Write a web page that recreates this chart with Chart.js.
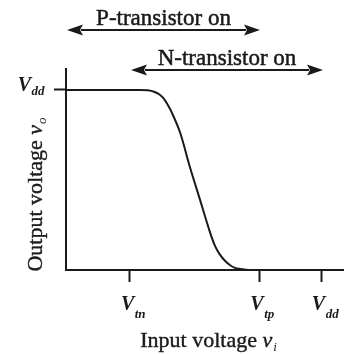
<!DOCTYPE html>
<html>
<head>
<meta charset="utf-8">
<script src="https://cdn.jsdelivr.net/npm/chart.js@4.4.1/dist/chart.umd.min.js"></script>
<style>
  html, body { margin: 0; padding: 0; background: #ffffff; }
  #wrap { width: 344px; height: 354px; }
</style>
</head>
<body>
<div id="wrap"><canvas id="c" width="344" height="354"></canvas></div>
<script>
// ---- data (normalised so that Vdd = 5) ----
const inputVoltage  = [0, 1.45, 1.60, 1.72, 1.82, 1.91, 1.99, 2.07, 2.23, 2.42, 2.62, 2.81, 2.91, 3.01, 3.11, 3.20, 3.30, 3.40, 3.59, 3.80];
const outputVoltage = [5, 5, 4.99, 4.95, 4.88, 4.76, 4.58, 4.36, 3.81, 2.86, 1.94, 1.06, 0.67, 0.42, 0.25, 0.14, 0.06, 0.03, 0, 0];

const xTickValues = [1.25, 3.77, 5];
const xTickMain   = ['V', 'V', 'V'];
const xTickSub    = ['tn', 'tp', 'dd'];
const yTickValues = [5];
const yTickMain   = ['V'];
const yTickSub    = ['dd'];

const regionLabels = ['P-transistor on', 'N-transistor on'];
const regionStart  = [0, 1.25];
const regionEnd    = [3.77, 5];

const xTitle = ['Input voltage ', 'v', 'i'];
const yTitle = ['Output voltage ', 'v', 'o'];

const INK = '#1a1a1a';
const SERIF = '"Liberation Serif", "DejaVu Serif", serif';

function txt(ctx, s, x, y, w) {
  ctx.fillText(s, x, y);
  if (w) { ctx.lineWidth = w; ctx.strokeText(s, x, y); }
}

function drawSub(ctx, main, sub, x, base, mainFont, subFont, subDrop, align) {
  ctx.font = mainFont;
  const w1 = ctx.measureText(main).width;
  ctx.font = subFont;
  const w2 = ctx.measureText(sub).width;
  const total = w1 + w2;
  let sx = x;
  if (align === 'center') sx = x - total / 2;
  else if (align === 'right') sx = x - total;
  ctx.textAlign = 'left';
  ctx.textBaseline = 'alphabetic';
  ctx.font = mainFont;
  ctx.fillText(main, sx, base);
  ctx.font = subFont;
  ctx.fillText(sub, sx + w1 + 0.5, base + subDrop);
}

function arrow(ctx, x1, x2, y) {
  const L = 16, H = 5.5;
  ctx.lineWidth = 2.2;
  ctx.beginPath();
  ctx.moveTo(x1 + L - 2, y);
  ctx.lineTo(x2 - L + 2, y);
  ctx.stroke();
  ctx.beginPath();
  ctx.moveTo(x1, y); ctx.lineTo(x1 + L, y - H); ctx.lineTo(x1 + L - 3, y); ctx.lineTo(x1 + L, y + H); ctx.closePath();
  ctx.fill();
  ctx.beginPath();
  ctx.moveTo(x2, y); ctx.lineTo(x2 - L, y - H); ctx.lineTo(x2 - L + 3, y); ctx.lineTo(x2 - L, y + H); ctx.closePath();
  ctx.fill();
}

const annot = {
  id: 'annot',
  afterDraw(chart) {
    const { ctx, scales: { x, y }, chartArea } = chart;
    ctx.save();
    ctx.fillStyle = INK;
    ctx.strokeStyle = INK;

    // region arrows
    const arrowY = [30, 70];
    const textY = [25, 65];
    for (let i = 0; i < regionLabels.length; i++) {
      const a = x.getPixelForValue(regionStart[i]) + 1;
      const b = x.getPixelForValue(regionEnd[i]) + 1;
      arrow(ctx, a, b, arrowY[i]);
      ctx.font = '23px ' + SERIF;
      ctx.textAlign = 'center';
      ctx.textBaseline = 'alphabetic';
      txt(ctx, regionLabels[i], (a + b) / 2, textY[i], 0.5);
    }

    // x tick labels
    for (let i = 0; i < xTickValues.length; i++) {
      const px = x.getPixelForValue(xTickValues[i]);
      drawSub(ctx, xTickMain[i], xTickSub[i], px + 3, 310,
        'italic bold 20px ' + SERIF, 'italic bold 13px ' + SERIF, 8, 'center');
    }
    // y tick labels
    for (let i = 0; i < yTickValues.length; i++) {
      const py = y.getPixelForValue(yTickValues[i]);
      drawSub(ctx, yTickMain[i], yTickSub[i], chartArea.left - 22, py + 1,
        'italic bold 20px ' + SERIF, 'italic bold 13px ' + SERIF, 4, 'right');
    }

    // x title
    {
      ctx.font = '22px ' + SERIF;
      const w1 = ctx.measureText(xTitle[0]).width;
      ctx.font = 'italic 22px ' + SERIF;
      const w2 = ctx.measureText(xTitle[1]).width;
      ctx.font = 'italic 13px ' + SERIF;
      const w3 = ctx.measureText(xTitle[2]).width;
      const cx = (chartArea.left + chartArea.right) / 2 + 3;
      let sx = cx - (w1 + w2 + w3) / 2;
      ctx.textAlign = 'left';
      ctx.font = '22px ' + SERIF;
      txt(ctx, xTitle[0], sx, 347, 0.4);
      ctx.font = 'italic 22px ' + SERIF;
      txt(ctx, xTitle[1], sx + w1, 347, 0.4);
      ctx.font = 'italic 13px ' + SERIF;
      ctx.fillText(xTitle[2], sx + w1 + w2 + 1, 351);
    }
    // y title
    {
      ctx.save();
      ctx.translate(42, 0);
      ctx.rotate(-Math.PI / 2);
      ctx.font = '22px ' + SERIF;
      const w1 = ctx.measureText(yTitle[0]).width;
      ctx.font = 'italic 22px ' + SERIF;
      const w2 = ctx.measureText(yTitle[1]).width;
      ctx.font = 'italic 13px ' + SERIF;
      const w3 = ctx.measureText(yTitle[2]).width;
      const cy = 195;
      let s = -cy - (w1 + w2 + w3) / 2;
      ctx.textAlign = 'left';
      ctx.font = '22px ' + SERIF;
      txt(ctx, yTitle[0], s, 0, 0.4);
      ctx.font = 'italic 22px ' + SERIF;
      txt(ctx, yTitle[1], s + w1, 0, 0.4);
      ctx.font = 'italic 13px ' + SERIF;
      ctx.fillText(yTitle[2], s + w1 + w2 + 1, 4);
      ctx.restore();
    }
    ctx.restore();
  }
};

new Chart(document.getElementById('c'), {
  type: 'line',
  data: {
    datasets: [{
      data: inputVoltage.map((v, i) => ({ x: v, y: outputVoltage[i] })),
      borderColor: INK,
      borderWidth: 2,
      pointRadius: 0,
      cubicInterpolationMode: 'monotone',
      fill: false,
      clip: 4
    }]
  },
  options: {
    responsive: false,
    animation: false,
    devicePixelRatio: 1,
    layout: { padding: { top: 69, right: 0, left: 0, bottom: 0 } },
    plugins: { legend: { display: false }, tooltip: { enabled: false }, title: { display: false } },
    scales: {
      x: {
        type: 'linear',
        position: 'bottom',
        min: 0,
        max: 5.43,
        afterBuildTicks: (s) => { s.ticks = xTickValues.map(v => ({ value: v })); },
        afterFit: (s) => { s.height = 84; },
        ticks: { display: false },
        grid: { drawOnChartArea: false, drawTicks: true, tickLength: 12, tickColor: INK, tickWidth: 2, color: INK },
        border: { display: true, color: INK, width: 2 }
      },
      y: {
        type: 'linear',
        position: 'left',
        min: 0,
        max: 5.58,
        afterBuildTicks: (s) => { s.ticks = yTickValues.map(v => ({ value: v })); },
        afterFit: (s) => { s.width = 66; },
        ticks: { display: false },
        grid: { drawOnChartArea: false, drawTicks: true, tickLength: 12, tickColor: INK, tickWidth: 2, color: INK },
        border: { display: true, color: INK, width: 2 }
      }
    }
  },
  plugins: [annot]
});
</script>
</body>
</html>
